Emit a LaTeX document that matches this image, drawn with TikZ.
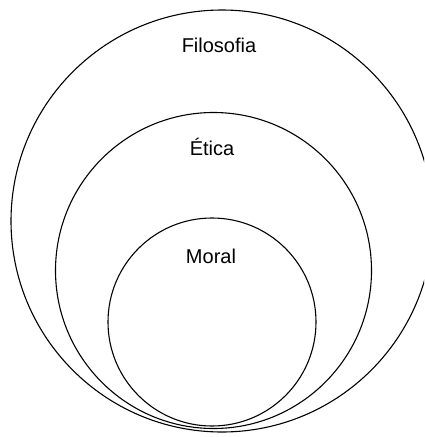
\documentclass[tikz,border=0pt]{standalone}
\usepackage{fontspec}
\setmainfont{Liberation Sans}
\begin{document}
\begin{tikzpicture}[x=1pt,y=-1pt,
  ring/.style={draw=black,line width=1.1pt},
  lbl/.style={anchor=base,inner sep=0pt,font=\fontsize{20}{24}\selectfont}]
\useasboundingbox (0,0) rectangle (424,437);
\begin{scope}
\clip (0,0) rectangle (424,437);
\draw[ring] (222,221) circle[radius=211];
\end{scope}
\draw[ring] (213.5,270.5) circle[radius=158];
\draw[ring] (212,322) circle[radius=104];
\node[lbl] (filo) at (219,52.7) {Filosofia};
\node[lbl] (etica) at (212,155) {Ética};
\node[lbl] (moral) at (211,263) {Moral};
\end{tikzpicture}
\end{document}
